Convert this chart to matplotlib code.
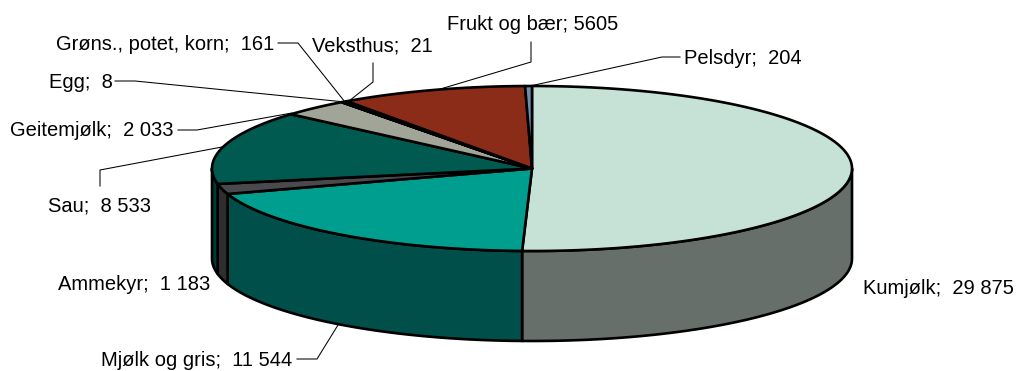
import numpy as np
import matplotlib
matplotlib.use("Agg")
import matplotlib.pyplot as plt

labels = ["Kumjølk", "Mjølk og gris", "Ammekyr", "Sau", "Geitemjølk", "Egg",
          "Grøns., potet, korn", "Veksthus", "Frukt og bær", "Pelsdyr"]
values = [29875, 11544, 1183, 8533, 2033, 8, 161, 21, 5605, 204]
# Frukt og bær has a single space in the source, the rest have two
label_text = ["Kumjølk;  29 875", "Mjølk og gris;  11 544", "Ammekyr;  1 183",
              "Sau;  8 533", "Geitemjølk;  2 033", "Egg;  8",
              "Grøns., potet, korn;  161", "Veksthus;  21",
              "Frukt og bær; 5605", "Pelsdyr;  204"]

top_colors = ["#C6E2D6", "#009E8E", "#4A4A4E", "#005A50", "#A0A598",
              "#A0A598", "#A0A598", "#8B2C18", "#8B2C18", "#6F8FAF"]
side_colors = ["#666F6A", "#004F4A", "#2E2E30", "#003A36", "#6A6E64",
               "#6A6E64", "#6A6E64", "#5C1D10", "#5C1D10", "#4A5F75"]

# pie geometry in pixels
CX, CY, RX, RY, DEPTH = 532, 168.5, 320, 82.5, 90
EDGE = 1.9

# label anchor (left edge, middle) and leader line for each slice
label_pos = [(863, 288), (101, 361), (58, 284), (48, 206), (10, 131),
             (49, 82), (56, 44), (312, 46), (447, 25), (684, 58)]
leaders = [
    None,
    [(297, 359), (317, 359), (338, 325)],
    None,
    [(100, 186), (100, 170), (222, 147)],
    [(178, 130), (197, 130), (292, 113)],
    [(115, 81), (135, 81), (345, 102)],
    [(278, 43), (298, 43), (345, 102)],
    [(373, 63), (373, 82), (349, 101)],
    [(437, 90), (531, 62), (531, 42)],
    [(530, 86), (662, 57), (680, 57)],
]


def rim(a, b, n=200):
    t = np.radians(np.linspace(a, b, n))
    return CX + RX * np.sin(t), CY - RY * np.cos(t)


fig = plt.figure(figsize=(10.17, 3.71), dpi=100)
ax = fig.add_axes([0, 0, 1, 1])
ax.set_xlim(0, 1017)
ax.set_ylim(371, 0)
ax.axis("off")

edges = np.cumsum([0] + values) / sum(values) * 360

# front wall: only the part between 90 and 270 degrees shows
for i in range(len(values)):
    a, b = max(edges[i], 90), min(edges[i + 1], 270)
    if a >= b:
        continue
    x, y = rim(a, b)
    ax.fill(np.r_[x, x[::-1]], np.r_[y, y[::-1] + DEPTH],
            facecolor=side_colors[i], edgecolor="black", linewidth=EDGE,
            joinstyle="round", zorder=2)

# top face
for i in range(len(values)):
    x, y = rim(edges[i], edges[i + 1])
    ax.fill(np.r_[CX, x], np.r_[CY, y],
            facecolor=top_colors[i], edgecolor="black", linewidth=EDGE,
            joinstyle="round", zorder=3)

for line in leaders:
    if line is not None:
        xs, ys = zip(*line)
        ax.plot(xs, ys, color="black", linewidth=0.75, zorder=4)

for text, (px, py) in zip(label_text, label_pos):
    ax.text(px, py, text, ha="left", va="center",
            fontsize=14.5, family="Liberation Sans", color="black", zorder=5)

fig.savefig("out.png", dpi=100)
